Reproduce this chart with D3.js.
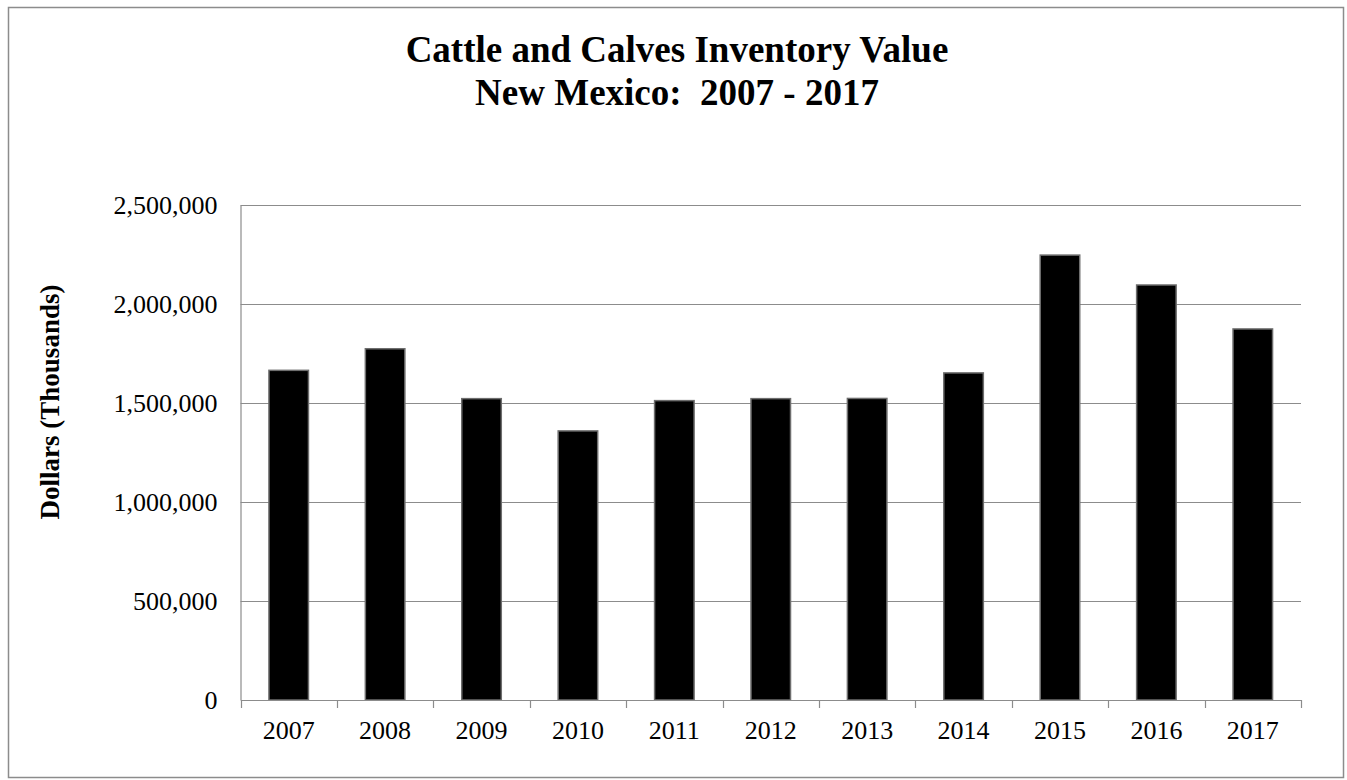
<!DOCTYPE html>
<html><head><meta charset="utf-8">
<script src="https://cdn.jsdelivr.net/npm/d3@7"></script>
<style>body{margin:0;background:#fff}svg{display:block}text{font-family:"Liberation Serif","Times New Roman",serif;fill:#000}</style>
</head><body><svg id="c" width="1347" height="780"></svg>
<script>
const years = ["2007","2008","2009","2010","2011","2012","2013","2014","2015","2016","2017"];
const values = [1665000,1774000,1522000,1359000,1512000,1522000,1523000,1652000,2247000,2096000,1874000];
const yTicks = [0,500000,1000000,1500000,2000000,2500000];
const titleLines = ["Cattle and Calves Inventory Value","New Mexico:  2007 - 2017"];
const yLabel = "Dollars (Thousands)";

const svg = d3.select("#c");
svg.append("rect").attr("x",8.5).attr("y",7.5).attr("width",1335).attr("height",770).attr("fill","#fff").attr("stroke","#8c8c8c").attr("stroke-width",1.5);

const L=240.5,R=1301,T=205,B=700;
const x = d3.scaleBand().domain(years).range([L,R]).paddingInner(0.59).paddingOuter(0.295);
const xb = d3.scaleBand().domain(years).range([L,R]);
const y = d3.scaleLinear().domain([0,2500000]).range([B,T]);

svg.append("g").selectAll("line").data(yTicks.slice(1)).join("line")
  .attr("x1",L).attr("x2",R).attr("y1",d=>Math.round(y(d))+0.5).attr("y2",d=>Math.round(y(d))+0.5)
  .attr("stroke","#8c8c8c").attr("stroke-width",1.2);

const ya = svg.append("g").attr("transform",`translate(${L},0)`)
  .call(d3.axisLeft(y).tickValues(yTicks).tickSize(0).tickPadding(23).tickFormat(d3.format(",")));
ya.select(".domain").attr("stroke","#8c8c8c").attr("stroke-width",1.2);
ya.selectAll("text").style("font-size","26px").style("font-family","'Liberation Serif',serif");

svg.append("g").selectAll("rect").data(values).join("rect")
  .attr("x",(d,i)=>x(years[i])).attr("width",x.bandwidth())
  .attr("y",d=>y(d)).attr("height",d=>B-y(d))
  .attr("fill","#000").attr("stroke","#6e6e6e").attr("stroke-width",1.5);

const xa = svg.append("g").attr("transform",`translate(0,${B})`)
  .call(d3.axisBottom(xb).tickSize(0).tickPadding(21));
xa.select(".domain").attr("stroke","#8c8c8c").attr("stroke-width",1.2);
xa.selectAll("text").style("font-size","26px").style("font-family","'Liberation Serif',serif");
xa.selectAll(".tick line").remove();
const bounds = years.map(d=>xb(d)).concat([R]);
svg.append("g").selectAll("line").data(bounds).join("line")
  .attr("x1",d=>Math.round(d)+0.5).attr("x2",d=>Math.round(d)+0.5).attr("y1",B).attr("y2",B+8)
  .attr("stroke","#8c8c8c").attr("stroke-width",1.2);

svg.append("text").attr("x",677).attr("y",62).attr("text-anchor","middle")
  .style("font-size","37px").style("font-weight","bold").style("white-space","pre").text(titleLines[0]);
svg.append("text").attr("x",677).attr("y",105).attr("text-anchor","middle")
  .style("font-size","37px").style("font-weight","bold").style("white-space","pre").text(titleLines[1]);

svg.append("text").attr("transform",`translate(59,402) rotate(-90)`).attr("text-anchor","middle")
  .style("font-size","27px").style("font-weight","bold").text(yLabel);
</script></body></html>
